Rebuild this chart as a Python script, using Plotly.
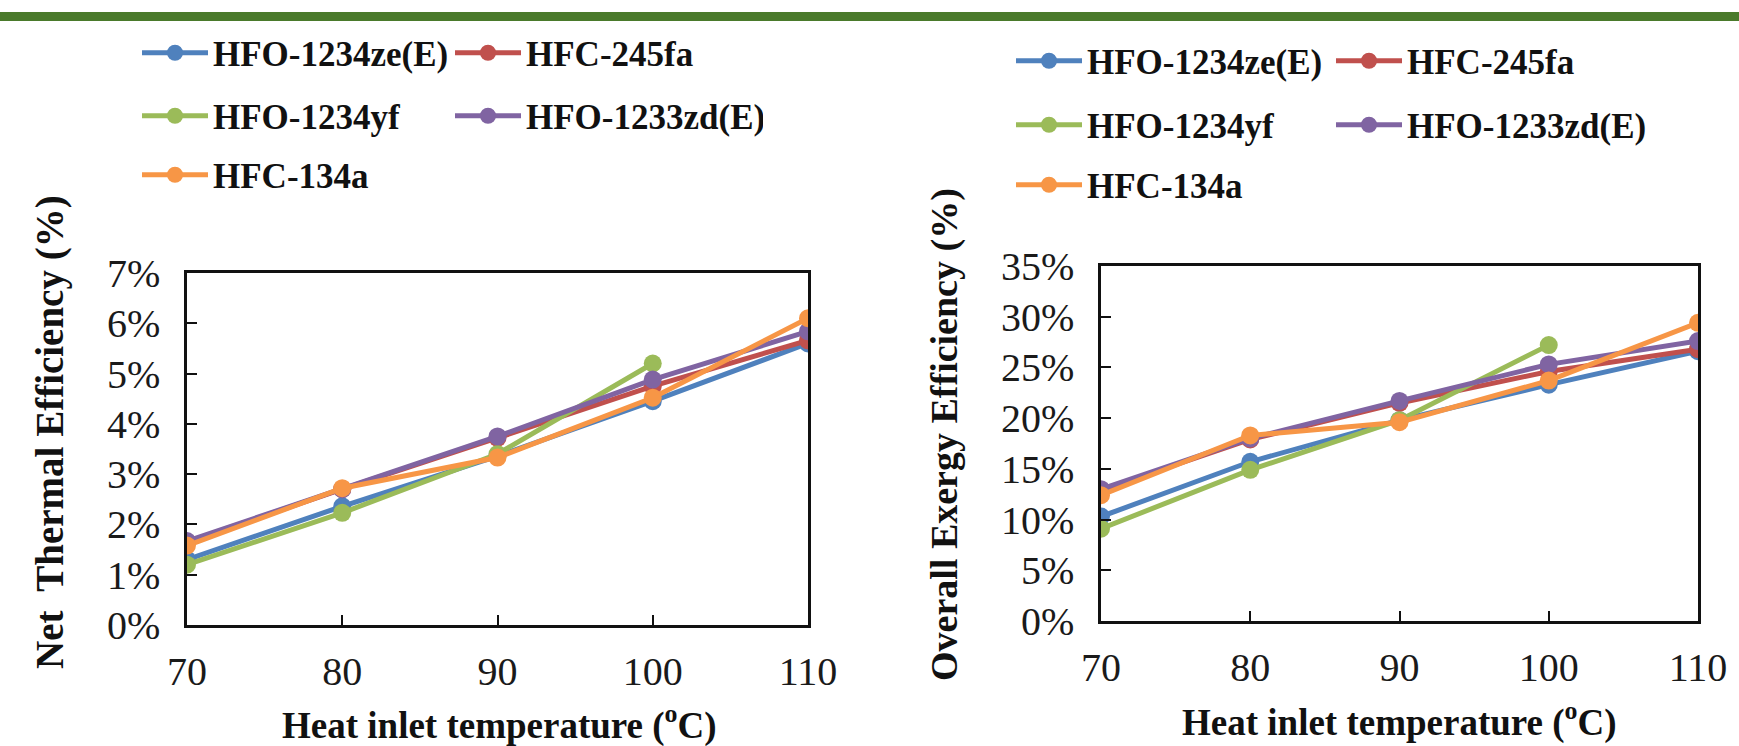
import plotly.graph_objects as go

temps = [70, 80, 90, 100, 110]
names = ["HFO-1234ze(E)", "HFC-245fa", "HFO-1234yf", "HFO-1233zd(E)", "HFC-134a"]
colors = ["#4F81BD", "#C0504D", "#9BBB59", "#8064A2", "#F79646"]

# Net thermal efficiency (fraction)
thermal_ze = [0.0130, 0.0236, 0.0336, 0.0445, 0.0560]
thermal_245 = [0.0165, 0.0270, 0.0372, 0.0475, 0.0566]
thermal_yf = [0.0120, 0.0223, 0.0340, 0.0520, None]
thermal_1233 = [0.0167, 0.0270, 0.0375, 0.0488, 0.0584]
thermal_134 = [0.0158, 0.0272, 0.0333, 0.0452, 0.0610]

# Overall exergy efficiency (fraction)
exergy_ze = [0.103, 0.157, 0.198, 0.233, 0.266]
exergy_245 = [0.129, 0.179, 0.215, 0.246, 0.268]
exergy_yf = [0.091, 0.149, 0.198, 0.272, None]
exergy_1233 = [0.130, 0.180, 0.217, 0.253, 0.276]
exergy_134 = [0.124, 0.183, 0.196, 0.237, 0.294]

thermal = [thermal_ze, thermal_245, thermal_yf, thermal_1233, thermal_134]
exergy = [exergy_ze, exergy_245, exergy_yf, exergy_1233, exergy_134]

W, H = 1739, 746
def px(x):
    return x / W
def py(y):
    return 1 - y / H

left_legends = ["legend", "legend", "legend2", "legend2", "legend3"]
right_legends = ["legend4", "legend4", "legend5", "legend5", "legend6"]

fig = go.Figure()
for i in range(5):
    fig.add_trace(go.Scatter(
        x=temps, y=thermal[i], name=names[i], mode="lines+markers",
        line=dict(color=colors[i], width=5),
        marker=dict(color=colors[i], size=18),
        xaxis="x", yaxis="y", legend=left_legends[i]))
for i in range(5):
    fig.add_trace(go.Scatter(
        x=temps, y=exergy[i], name=names[i], mode="lines+markers",
        line=dict(color=colors[i], width=5),
        marker=dict(color=colors[i], size=18),
        xaxis="x2", yaxis="y2", legend=right_legends[i]))

tick_font = dict(family="Liberation Serif", size=40, color="#1a1a1a")
axis_common = dict(showline=True, linecolor="#111111", linewidth=2.5, mirror=True,
                   ticks="inside", ticklen=10, tickwidth=2, tickcolor="#111111",
                   showgrid=False, zeroline=False, tickfont=tick_font, automargin=False)

fig.update_layout(
    template="none",
    width=W, height=H,
    margin=dict(l=0, r=0, t=0, b=0, pad=0, autoexpand=False),
    paper_bgcolor="white", plot_bgcolor="white",
    xaxis=dict(domain=[px(187), px(808)], range=[70, 110], tickvals=temps,
               anchor="y", ticklabelstandoff=9, **axis_common),
    yaxis=dict(domain=[py(625), py(273)], range=[0, 0.07], dtick=0.01, tickformat=".0%",
               anchor="x", ticklabelstandoff=16, **axis_common),
    xaxis2=dict(domain=[px(1101), px(1698)], range=[70, 110], tickvals=temps,
                anchor="y2", ticklabelstandoff=9, **axis_common),
    yaxis2=dict(domain=[py(621), py(266)], range=[0, 0.35], dtick=0.05, tickformat=".0%",
                anchor="x2", ticklabelstandoff=16, **axis_common),
)

leg_font = dict(family="Liberation Serif", size=35, color="#111111", weight="bold")
def leg(x, y, ew):
    return dict(orientation="h", x=px(x), y=py(y), xanchor="left", yanchor="middle",
                font=leg_font, itemwidth=66, entrywidth=ew, bgcolor="rgba(0,0,0,0)",
                borderwidth=0, traceorder="normal")

fig.update_layout(
    legend=leg(137, 53, 232),
    legend2=leg(137, 116, 232),
    legend3=leg(137, 175, 232),
    legend4=leg(1011, 61, 239),
    legend5=leg(1011, 125, 239),
    legend6=leg(1011, 185, 239),
)

def ann(text, x, y, size, angle=0):
    fig.add_annotation(text=text, x=px(x), y=py(y), xref="paper", yref="paper",
                       xanchor="center", yanchor="middle", textangle=angle,
                       showarrow=False,
                       font=dict(family="Liberation Serif", size=size, color="#111111"))

ann("<b>Net\u00a0 Thermal Efficiency (%)</b>", 50, 432, 39, -90)
ann("<b>Overall Exergy Efficiency (%)</b>", 944, 435, 38, -90)
ann("<b>Heat inlet temperature (<sup>o</sup>C)</b>", 499, 723, 37)
ann("<b>Heat inlet temperature (<sup>o</sup>C)</b>", 1399, 720, 37)

# top decorative band
fig.add_shape(type="rect", xref="paper", yref="paper", x0=0, x1=1, y0=py(21), y1=py(12),
              fillcolor="#4a7a2b", line=dict(width=0), layer="below")

fig.write_html("out.html", config={"displayModeBar": False},
               post_script="document.body.style.margin='0';document.body.style.overflow='hidden';")
